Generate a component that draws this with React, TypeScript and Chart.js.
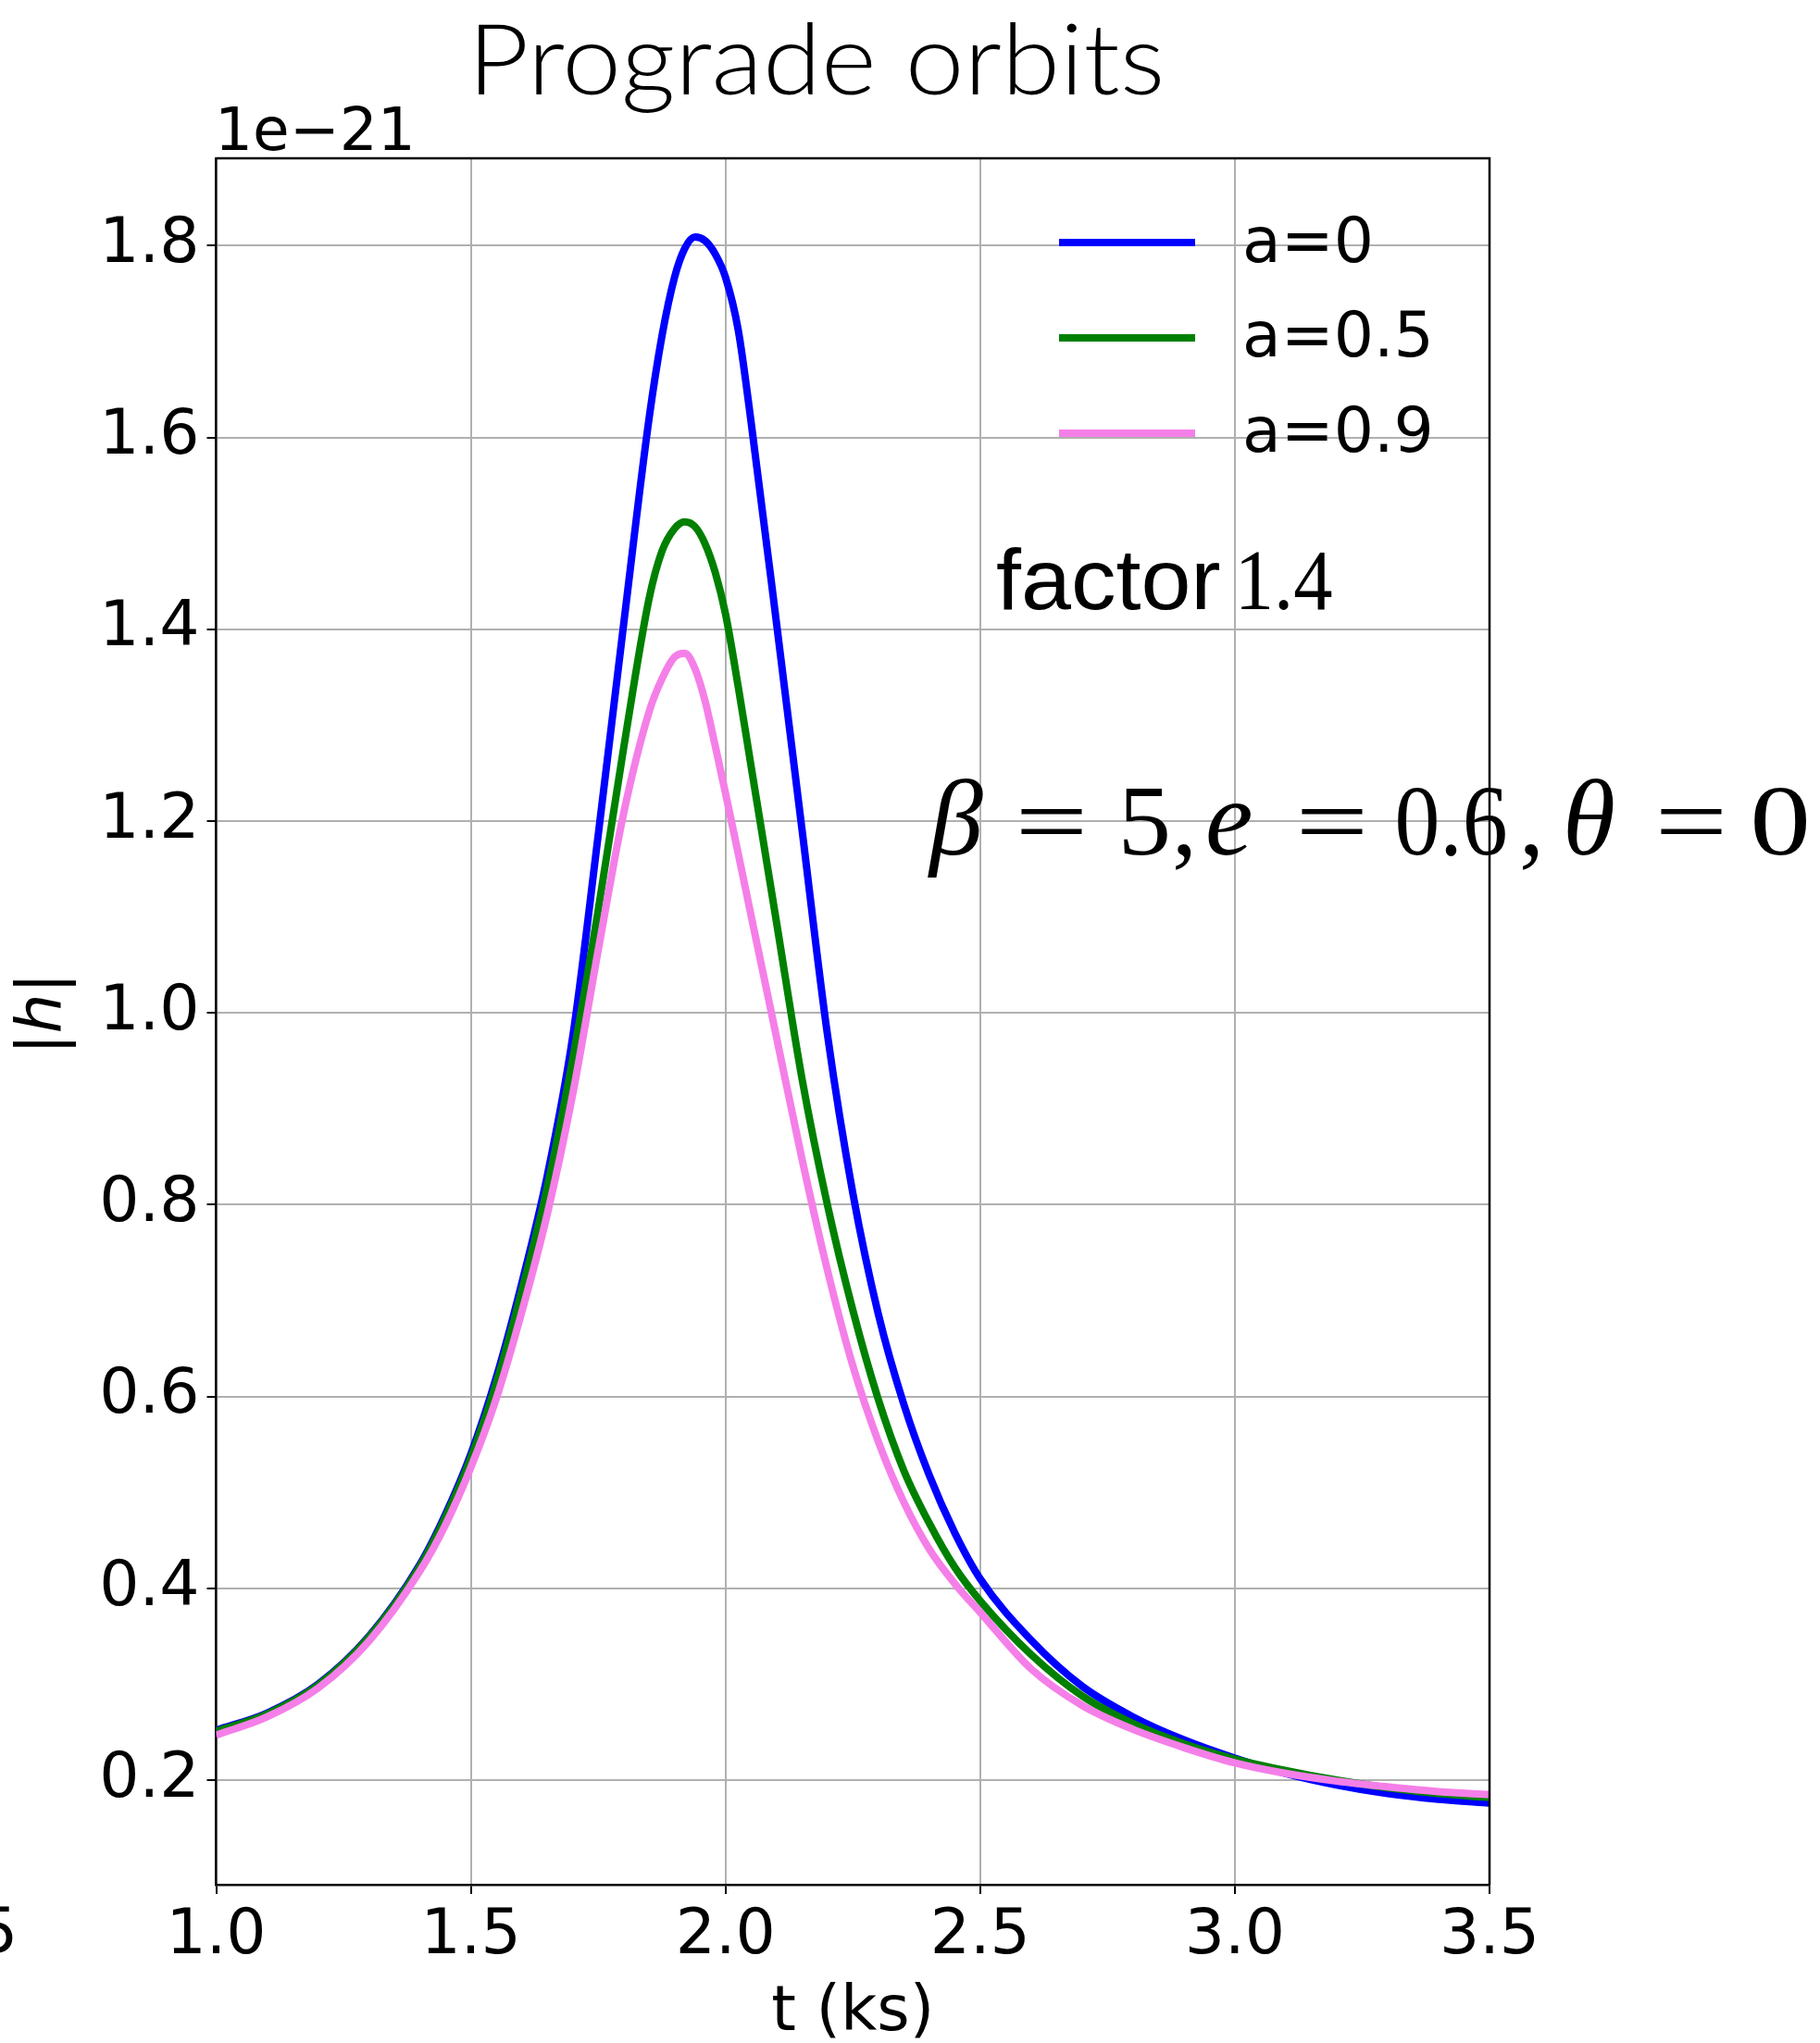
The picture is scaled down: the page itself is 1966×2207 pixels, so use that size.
import React, { useEffect, useRef } from "react";
import { Chart, registerables } from "chart.js";

Chart.register(...registerables);

// ---- data ----
const T = [1.0, 1.1, 1.2, 1.3, 1.4, 1.45, 1.5, 1.55, 1.6, 1.65, 1.7, 1.75, 1.8, 1.85, 1.875, 1.9, 1.92, 1.94, 1.96, 1.98, 2.0, 2.025, 2.05, 2.1, 2.15, 2.2, 2.25, 2.3, 2.35, 2.4, 2.45, 2.5, 2.6, 2.7, 2.8, 2.9, 3.0, 3.1, 3.2, 3.3, 3.4, 3.5];

const H_A0 = [0.252, 0.270, 0.300, 0.350, 0.425, 0.477, 0.540, 0.620, 0.718, 0.830, 0.975, 1.185, 1.405, 1.620, 1.705, 1.767, 1.797, 1.809, 1.805, 1.791, 1.767, 1.712, 1.617, 1.407, 1.192, 0.978, 0.812, 0.686, 0.592, 0.518, 0.458, 0.410, 0.346, 0.298, 0.266, 0.242, 0.223, 0.207, 0.195, 0.186, 0.180, 0.176];

const H_A05 = [0.251, 0.269, 0.299, 0.349, 0.423, 0.474, 0.536, 0.614, 0.710, 0.818, 0.952, 1.107, 1.276, 1.432, 1.481, 1.505, 1.512, 1.507, 1.489, 1.459, 1.416, 1.340, 1.258, 1.095, 0.932, 0.800, 0.690, 0.597, 0.523, 0.468, 0.422, 0.387, 0.331, 0.288, 0.259, 0.238, 0.222, 0.210, 0.200, 0.192, 0.186, 0.182];

const H_A09 = [0.247, 0.266, 0.296, 0.345, 0.418, 0.466, 0.526, 0.598, 0.688, 0.790, 0.915, 1.065, 1.208, 1.314, 1.348, 1.371, 1.375, 1.359, 1.325, 1.278, 1.229, 1.166, 1.102, 0.975, 0.848, 0.732, 0.632, 0.553, 0.490, 0.441, 0.405, 0.375, 0.316, 0.278, 0.253, 0.234, 0.218, 0.207, 0.199, 0.193, 0.188, 0.185];

const SERIES_LABELS = ["a=0", "a=0.5", "a=0.9"];
const SERIES_COLORS = ["#0000ff", "#008000", "#f57fe8"];
const X_TICKS = [1.0, 1.5, 2.0, 2.5, 3.0, 3.5];
const Y_TICKS = [0.2, 0.4, 0.6, 0.8, 1.0, 1.2, 1.4, 1.6, 1.8];
const X_RANGE = [1.0, 3.5];
const Y_RANGE = [0.091, 1.891];

const TITLE = "Prograde orbits";
const OFFSET_TEXT = "1e\u221221";
const X_LABEL = "t (ks)";

// ---- layout ----
const W = 1966;
const H = 2207;
const PLOT_LEFT = 233.5;
const PLOT_RIGHT = 1609;
const PLOT_TOP = 171;
const PLOT_BOTTOM = 2036;
const DV = '"DejaVu Sans", sans-serif';
const SERIF = '"Liberation Serif", "Times New Roman", serif';
const SANS = '"Liberation Sans", Arial, sans-serif';

// draw text so that its ink starts at inkLeft and (optionally) spans inkWidth
function drawInk(ctx: CanvasRenderingContext2D, text: string, font: string, inkLeft: number, baseline: number, inkWidth?: number) {
  ctx.save();
  ctx.font = font;
  ctx.textAlign = "left";
  ctx.textBaseline = "alphabetic";
  const m = ctx.measureText(text);
  const w = m.actualBoundingBoxLeft + m.actualBoundingBoxRight;
  const sx = inkWidth && w > 0 ? inkWidth / w : 1;
  ctx.translate(inkLeft, baseline);
  ctx.scale(sx, 1);
  ctx.fillText(text, m.actualBoundingBoxLeft, 0);
  ctx.restore();
}

const decorPlugin = {
  id: "decor",
  afterDraw(chart: any) {
    const ctx: CanvasRenderingContext2D = chart.ctx;
    const ca = chart.chartArea;
    ctx.save();
    // top & right spines
    ctx.strokeStyle = "#000";
    ctx.lineWidth = 2.5;
    ctx.beginPath();
    ctx.moveTo(ca.left, ca.top);
    ctx.lineTo(ca.right, ca.top);
    ctx.lineTo(ca.right, ca.bottom);
    ctx.stroke();

    ctx.fillStyle = "#000";
    // title
    drawInk(ctx, TITLE, '300 106px "Lato", sans-serif', 517, 102, 737);
    // offset text
    drawInk(ctx, OFFSET_TEXT, `64px ${DV}`, 239, 162, 204);
    // x label
    ctx.font = `68px ${DV}`;
    ctx.textAlign = "center";
    ctx.textBaseline = "alphabetic";
    ctx.fillText(X_LABEL, (ca.left + ca.right) / 2, 2193);
    // cropped neighbour label at bottom-left
    ctx.textAlign = "left";
    ctx.fillText("5", -24, 2109);

    // y label |h| (rotated)
    ctx.save();
    ctx.translate(66, 1095);
    ctx.rotate(-Math.PI / 2);
    const up = `68px ${DV}`;
    const it = `italic 68px ${DV}`;
    ctx.font = up;
    const wb = ctx.measureText("|").width;
    ctx.font = it;
    const wh = ctx.measureText("h").width;
    let px = -(wb * 2 + wh) / 2;
    ctx.textAlign = "left";
    ctx.font = up;
    ctx.fillText("|", px, 0);
    px += wb;
    ctx.font = it;
    ctx.fillText("h", px, 0);
    px += wh;
    ctx.font = up;
    ctx.fillText("|", px, 0);
    ctx.restore();

    // legend
    const legY = [262, 365, 468];
    const legBase = [283, 385, 488];
    for (let i = 0; i < SERIES_LABELS.length; i++) {
      ctx.strokeStyle = SERIES_COLORS[i];
      ctx.lineWidth = 8;
      ctx.lineCap = "butt";
      ctx.beginPath();
      ctx.moveTo(1144, legY[i]);
      ctx.lineTo(1291, legY[i]);
      ctx.stroke();
      ctx.fillStyle = "#000";
      ctx.font = `68px ${DV}`;
      ctx.textAlign = "left";
      ctx.fillText(SERIES_LABELS[i], 1342, legBase[i]);
    }

    // annotation: factor 1.4
    drawInk(ctx, "factor", `92px ${SANS}`, 1077, 658, 241);
    drawInk(ctx, "1.4", `93px ${SERIF}`, 1341, 658, 98);

    // annotation: beta = 5, e = 0.6, theta = 0
    const mBase = 923;
    const mUp = `108px ${SERIF}`;
    const mIt = `italic 116px ${SERIF}`;
    const pieces: [string, string, number, number | undefined][] = [
      ["\u03b2", mIt, 1002, undefined],
      ["=", mUp, 1103, 66],
      ["5", mUp, 1214, 47],
      [",", mUp, 1270, undefined],
      ["e", mIt, 1305, undefined],
      ["=", mUp, 1406, 66],
      ["0.6", mUp, 1510, 116],
      [",", mUp, 1645, undefined],
      ["\u03b8", mIt, 1693, undefined],
      ["=", mUp, 1794, 66],
      ["0", mUp, 1895, 56],
    ];
    for (const [s, f, x, w] of pieces) {
      drawInk(ctx, s, f, x, mBase, w);
    }
    ctx.restore();
  },
};

export default function App() {
  const ref = useRef<HTMLCanvasElement | null>(null);
  useEffect(() => {
    document.body.style.margin = "0";
    const canvas = ref.current;
    if (!canvas) return;
    const mk = (label: string, ys: number[], color: string, order: number) => ({
      label,
      data: T.map((t, i) => ({ x: t, y: ys[i] })),
      borderColor: color,
      backgroundColor: color,
      borderWidth: 8,
      pointRadius: 0,
      cubicInterpolationMode: "monotone" as const,
      fill: false,
      order,
    });
    const tickFont = { family: "DejaVu Sans", size: 68 };
    const chart = new Chart(canvas, {
      type: "line",
      data: {
        datasets: [
          mk(SERIES_LABELS[0], H_A0, SERIES_COLORS[0], 3),
          mk(SERIES_LABELS[1], H_A05, SERIES_COLORS[1], 2),
          mk(SERIES_LABELS[2], H_A09, SERIES_COLORS[2], 1),
        ],
      },
      options: {
        responsive: false,
        animation: false,
        devicePixelRatio: 1,
        layout: { padding: { left: 0, right: W - PLOT_RIGHT, top: PLOT_TOP, bottom: 0 } },
        plugins: { legend: { display: false }, tooltip: { enabled: false }, title: { display: false } },
        scales: {
          x: {
            type: "linear",
            min: X_RANGE[0],
            max: X_RANGE[1],
            afterBuildTicks: (s: any) => {
              s.ticks = X_TICKS.map((v) => ({ value: v }));
            },
            afterFit: (s: any) => {
              s.height = H - PLOT_BOTTOM;
            },
            ticks: {
              font: tickFont,
              color: "#000",
              padding: 6,
              maxRotation: 0,
              autoSkip: false,
              callback: (v: any) => Number(v).toFixed(1),
            },
            grid: { color: "#b0b0b0", lineWidth: 2, tickColor: "#000", tickLength: 10, tickWidth: 2 },
            border: { color: "#000", width: 2.5 },
          },
          y: {
            type: "linear",
            min: Y_RANGE[0],
            max: Y_RANGE[1],
            afterBuildTicks: (s: any) => {
              s.ticks = Y_TICKS.map((v) => ({ value: v }));
            },
            afterFit: (s: any) => {
              s.width = PLOT_LEFT;
            },
            ticks: {
              font: tickFont,
              color: "#000",
              padding: 8,
              autoSkip: false,
              callback: (v: any) => Number(v).toFixed(1),
            },
            grid: { color: "#b0b0b0", lineWidth: 2, tickColor: "#000", tickLength: 10, tickWidth: 2 },
            border: { color: "#000", width: 2.5 },
          },
        },
      },
      plugins: [decorPlugin],
    });
    const fonts: any = (document as any).fonts;
    if (fonts && fonts.ready) fonts.ready.then(() => chart.update());
    return () => chart.destroy();
  }, []);
  return (
    <div style={{ width: W, height: H, background: "#fff" }}>
      <canvas ref={ref} width={W} height={H} style={{ display: "block" }} />
    </div>
  );
}
